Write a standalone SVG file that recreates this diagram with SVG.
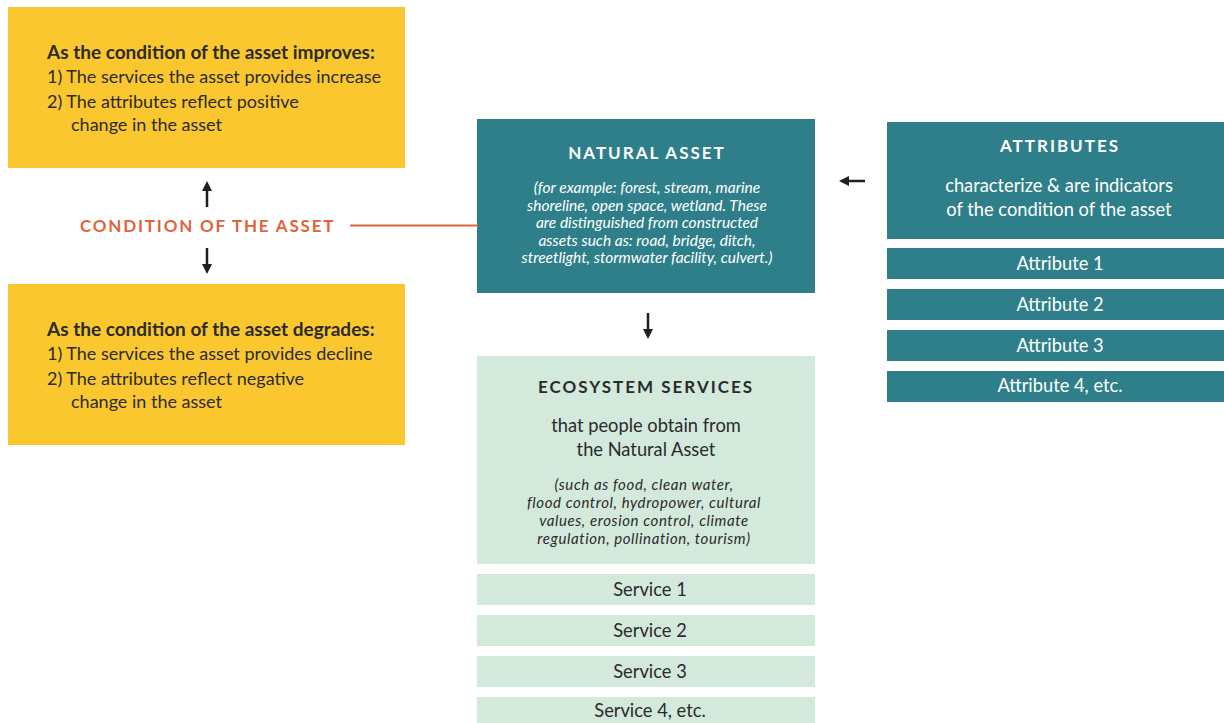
<svg xmlns="http://www.w3.org/2000/svg" width="1224" height="723" viewBox="0 0 1224 723">
<style>
text{font-family:Lato,"Noto Sans","Liberation Sans",sans-serif}
.yb{fill:#FBC72E}
.teal{fill:#2F7F8A}
.lg{fill:#D3E9DC}
.yt{font-size:18px;fill:#2b2b2b}
.yh{font-size:19px;font-weight:bold;fill:#2b2b2b}
.ttl{font-size:17px;font-weight:bold;letter-spacing:2px;text-anchor:middle}
.w{fill:#ffffff}
.d{fill:#2b2b2b}
.it{font-size:15.5px;font-style:italic;text-anchor:middle}
.it2{font-size:15px;font-style:italic;letter-spacing:0.6px;text-anchor:middle}
.bd{font-size:18.3px;text-anchor:middle}
.bar{font-size:18.3px;text-anchor:middle}
.cond{font-size:17px;font-weight:bold;letter-spacing:1.8px;fill:#E0633A}
.arr{stroke:#1f1f1f;stroke-width:2.5;fill:none}
</style>
<defs>
<marker id="ah" markerWidth="10" markerHeight="10" refX="7" refY="5" orient="auto" markerUnits="userSpaceOnUse">
<path d="M0,0 L10,5 L0,10 Z" fill="#1f1f1f"/>
</marker>
</defs>

<g id="improves">
<rect class="yb" x="8" y="7" width="397" height="161"/>
<text class="yh" x="47" y="59">As the condition of the asset improves:</text>
<text class="yt" x="47" y="83">1) The services the asset provides increase</text>
<text class="yt" x="47" y="108">2) The attributes reflect positive</text>
<text class="yt" x="71" y="131">change in the asset</text>
</g>

<g id="degrades">
<rect class="yb" x="8" y="284" width="397" height="161"/>
<text class="yh" x="47" y="336">As the condition of the asset degrades:</text>
<text class="yt" x="47" y="360">1) The services the asset provides decline</text>
<text class="yt" x="47" y="385">2) The attributes reflect negative</text>
<text class="yt" x="71" y="408">change in the asset</text>
</g>

<g id="condition">
<text class="cond" x="80" y="232">CONDITION OF THE ASSET</text>
</g>

<g id="natural-asset">
<rect class="teal" x="477" y="119" width="338" height="174"/>
<text class="ttl w" x="647" y="159">NATURAL ASSET</text>
<text class="it w" x="647" y="193">(for example: forest, stream, marine</text>
<text class="it w" x="647" y="210.5">shoreline, open space, wetland. These</text>
<text class="it w" x="647" y="228">are distinguished from constructed</text>
<text class="it w" x="647" y="245.5">assets such as: road, bridge, ditch,</text>
<text class="it w" x="647" y="263">streetlight, stormwater facility, culvert.)</text>
</g>

<g id="attributes">
<rect class="teal" x="887" y="122" width="337" height="117"/>
<text class="ttl w" x="1060" y="152">ATTRIBUTES</text>
<text class="bd w" x="1059" y="192">characterize &amp; are indicators</text>
<text class="bd w" x="1059" y="216">of the condition of the asset</text>
</g>
<g id="attribute-1"><rect class="teal" x="887" y="248" width="337" height="31"/><text class="bar w" x="1060" y="270">Attribute 1</text></g>
<g id="attribute-2"><rect class="teal" x="887" y="289" width="337" height="31"/><text class="bar w" x="1060" y="311">Attribute 2</text></g>
<g id="attribute-3"><rect class="teal" x="887" y="330" width="337" height="31"/><text class="bar w" x="1060" y="352">Attribute 3</text></g>
<g id="attribute-4"><rect class="teal" x="887" y="371" width="337" height="31"/><text class="bar w" x="1060" y="392">Attribute 4, etc.</text></g>

<g id="ecosystem-services">
<rect class="lg" x="477" y="356" width="338" height="208"/>
<text class="ttl d" x="646" y="393">ECOSYSTEM SERVICES</text>
<text class="bd d" x="646" y="432">that people obtain from</text>
<text class="bd d" x="646" y="456">the Natural Asset</text>
<text class="it2 d" x="644" y="490">(such as food, clean water,</text>
<text class="it2 d" x="644" y="508">flood control, hydropower, cultural</text>
<text class="it2 d" x="644" y="526">values, erosion control, climate</text>
<text class="it2 d" x="644" y="544">regulation, pollination, tourism)</text>
</g>
<g id="service-1"><rect class="lg" x="477" y="574" width="338" height="31"/><text class="bar d" x="650" y="596">Service 1</text></g>
<g id="service-2"><rect class="lg" x="477" y="615" width="338" height="31"/><text class="bar d" x="650" y="637">Service 2</text></g>
<g id="service-3"><rect class="lg" x="477" y="656" width="338" height="31"/><text class="bar d" x="650" y="678">Service 3</text></g>
<g id="service-4"><rect class="lg" x="477" y="697" width="338" height="31"/><text class="bar d" x="650" y="717">Service 4, etc.</text></g>

<g id="connectors">
<line class="arr" x1="207" y1="207" x2="207" y2="184" marker-end="url(#ah)"/>
<line class="arr" x1="207" y1="248" x2="207" y2="271" marker-end="url(#ah)"/>
<line x1="350" y1="225.5" x2="478" y2="225.5" stroke="#E0633A" stroke-width="2"/>
<line class="arr" x1="865" y1="181" x2="842" y2="181" marker-end="url(#ah)"/>
<line class="arr" x1="648" y1="313" x2="648" y2="336" marker-end="url(#ah)"/>
</g>
</svg>
